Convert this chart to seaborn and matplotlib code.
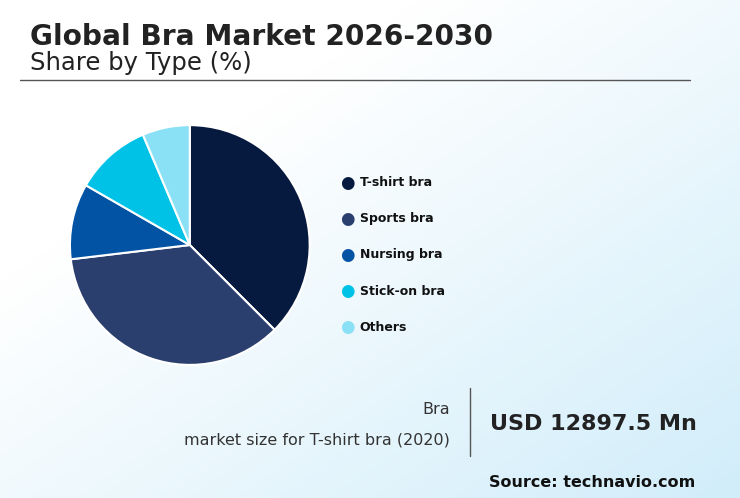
import numpy as np
import matplotlib.pyplot as plt
import seaborn as sns

sns.set_theme(style="white")
plt.rcParams['font.family'] = ['DejaVu Sans']

types = ['T-shirt bra', 'Sports bra', 'Nursing bra', 'Stick-on bra', 'Others']
shares = [37.5, 35.6, 10.2, 10.3, 6.4]
colors = ['#061a40', '#2b3f6e', '#0353a4', '#00c2e6', '#8ae0f5']

fig = plt.figure(figsize=(7.4, 4.98), dpi=100)

# background gradient, white top-left to light blue bottom-right
bg = fig.add_axes([0, 0, 1, 1], zorder=-10)
xx, yy = np.meshgrid(np.linspace(0, 1, 200), np.linspace(0, 1, 200))
g = np.clip((xx * 0.7 + yy * 0.7) - 0.4, 0, 1)
c0 = np.array([1.0, 1.0, 1.0])
c1 = np.array([0.82, 0.93, 0.98])
img = c0 + (c1 - c0) * g[..., None]
bg.imshow(img, aspect='auto', extent=[0, 1, 0, 1], origin='upper')
bg.axis('off')

fig.text(0.04, 0.91, 'Global Bra Market 2026-2030', fontsize=20.2, fontweight='bold', color='#222222')
fig.text(0.04, 0.86, 'Share by Type (%)', fontsize=17.5, color='#222222')
fig.add_artist(plt.Line2D([0.027, 0.932], [0.84, 0.84], color='#555555', lw=1))

ax = fig.add_axes([0.054, 0.207, 0.405, 0.602])
ax.pie(shares, colors=colors, startangle=90, counterclock=False, radius=1.0,
       wedgeprops=dict(edgecolor='white', linewidth=1.5))
ax.set_xlim(-1.25, 1.25)
ax.set_ylim(-1.25, 1.25)
ax.set_aspect('equal')

for i, (t, c) in enumerate(zip(types, colors)):
    y = 0.633 - i * 0.0725
    fig.text(0.47, y, '\u25CF', color=c, fontsize=12, va='center', ha='center')
    fig.text(0.486, y, t, fontsize=9, fontweight='bold', va='center', color='#111111')

fig.text(0.608, 0.168, 'Bra', fontsize=11.5, ha='right', color='#333333')
fig.text(0.608, 0.108, 'market size for T-shirt bra (2020)', fontsize=11.5, ha='right', color='#333333')
fig.add_artist(plt.Line2D([0.635, 0.635], [0.085, 0.22], color='#555555', lw=1))
fig.text(0.662, 0.137, 'USD 12897.5 Mn', fontsize=16, fontweight='bold', color='#222222')
fig.text(0.94, 0.022, 'Source: technavio.com', fontsize=11.5, fontweight='bold', ha='right', color='#111111')

fig.savefig('out.png', dpi=100)
